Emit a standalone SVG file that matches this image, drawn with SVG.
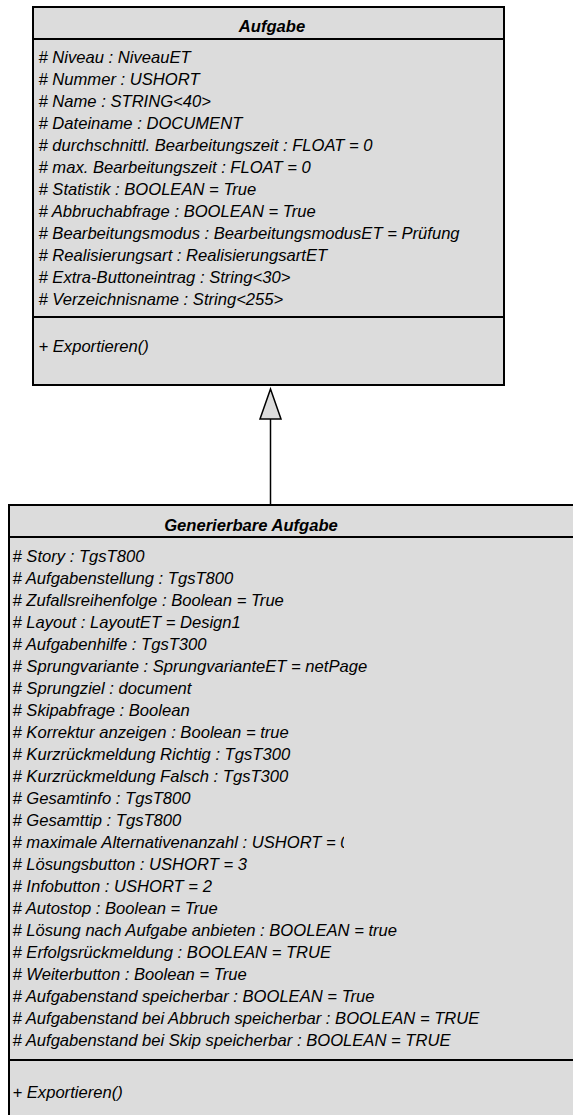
<svg xmlns="http://www.w3.org/2000/svg" width="573" height="1115" viewBox="0 0 573 1115">
<style>
.box{fill:#DCDCDC;stroke:#000;stroke-width:2}
.sep{stroke:#000;stroke-width:2}
.t{font-family:"Liberation Sans",Arial,sans-serif;font-size:16.6px;font-style:italic;fill:#000}
.h{font-family:"Liberation Sans",Arial,sans-serif;font-size:16.6px;font-style:italic;font-weight:bold;fill:#000;text-anchor:middle}
.con{stroke:#000;stroke-width:1.5;fill:none}
.tri{fill:#DCDCDC;stroke:#000;stroke-width:1.5}
</style>
<defs>
<clipPath id="clipMax"><rect x="0" y="830" width="344" height="30"/></clipPath>
</defs>
<g id="connectors">
<line class="con" x1="270.5" y1="419" x2="270.5" y2="505"/>
<polygon class="tri" points="270.5,389 260,419 281,419"/>
</g>
<g id="aufgabe">
<rect class="box" x="33" y="7" width="471" height="378"/>
<line class="sep" x1="33" y1="39" x2="504" y2="39"/>
<line class="sep" x1="33" y1="317" x2="504" y2="317"/>
<text class="h" x="272" y="32">Aufgabe</text>
<text class="t" x="38.5" y="63"># Niveau : NiveauET</text>
<text class="t" x="38.5" y="85"># Nummer : USHORT</text>
<text class="t" x="38.5" y="107"># Name : STRING&lt;40&gt;</text>
<text class="t" x="38.5" y="129"># Dateiname : DOCUMENT</text>
<text class="t" x="38.5" y="151"># durchschnittl. Bearbeitungszeit : FLOAT = 0</text>
<text class="t" x="38.5" y="173"># max. Bearbeitungszeit : FLOAT = 0</text>
<text class="t" x="38.5" y="195"># Statistik : BOOLEAN = True</text>
<text class="t" x="38.5" y="217"># Abbruchabfrage : BOOLEAN = True</text>
<text class="t" x="38.5" y="239"># Bearbeitungsmodus : BearbeitungsmodusET = Prüfung</text>
<text class="t" x="38.5" y="261"># Realisierungsart : RealisierungsartET</text>
<text class="t" x="38.5" y="283"># Extra-Buttoneintrag : String&lt;30&gt;</text>
<text class="t" x="38.5" y="305"># Verzeichnisname : String&lt;255&gt;</text>
<text class="t" x="38.5" y="352">+ Exportieren()</text>
</g>
<g id="generierbare-aufgabe">
<rect class="box" x="9" y="505" width="580" height="630"/>
<line class="sep" x1="9" y1="537" x2="580" y2="537"/>
<line class="sep" x1="9" y1="1060" x2="580" y2="1060"/>
<text class="h" x="251" y="531">Generierbare Aufgabe</text>
<text class="t" x="12.5" y="562"># Story : TgsT800</text>
<text class="t" x="12.5" y="584"># Aufgabenstellung : TgsT800</text>
<text class="t" x="12.5" y="606"># Zufallsreihenfolge : Boolean = True</text>
<text class="t" x="12.5" y="628"># Layout : LayoutET = Design1</text>
<text class="t" x="12.5" y="650"># Aufgabenhilfe : TgsT300</text>
<text class="t" x="12.5" y="672"># Sprungvariante : SprungvarianteET = netPage</text>
<text class="t" x="12.5" y="694"># Sprungziel : document</text>
<text class="t" x="12.5" y="716"># Skipabfrage : Boolean</text>
<text class="t" x="12.5" y="738"># Korrektur anzeigen : Boolean = true</text>
<text class="t" x="12.5" y="760"># Kurzrückmeldung Richtig : TgsT300</text>
<text class="t" x="12.5" y="782"># Kurzrückmeldung Falsch : TgsT300</text>
<text class="t" x="12.5" y="804"># Gesamtinfo : TgsT800</text>
<text class="t" x="12.5" y="826"># Gesamttip : TgsT800</text>
<text class="t" x="12.5" y="848" clip-path="url(#clipMax)"># maximale Alternativenanzahl : USHORT = 0</text>
<text class="t" x="12.5" y="870"># Lösungsbutton : USHORT = 3</text>
<text class="t" x="12.5" y="892"># Infobutton : USHORT = 2</text>
<text class="t" x="12.5" y="914"># Autostop : Boolean = True</text>
<text class="t" x="12.5" y="936"># Lösung nach Aufgabe anbieten : BOOLEAN = true</text>
<text class="t" x="12.5" y="958"># Erfolgsrückmeldung : BOOLEAN = TRUE</text>
<text class="t" x="12.5" y="980"># Weiterbutton : Boolean = True</text>
<text class="t" x="12.5" y="1002"># Aufgabenstand speicherbar : BOOLEAN = True</text>
<text class="t" x="12.5" y="1024"># Aufgabenstand bei Abbruch speicherbar : BOOLEAN = TRUE</text>
<text class="t" x="12.5" y="1046"># Aufgabenstand bei Skip speicherbar : BOOLEAN = TRUE</text>
<text class="t" x="12.5" y="1098">+ Exportieren()</text>
</g>
</svg>
